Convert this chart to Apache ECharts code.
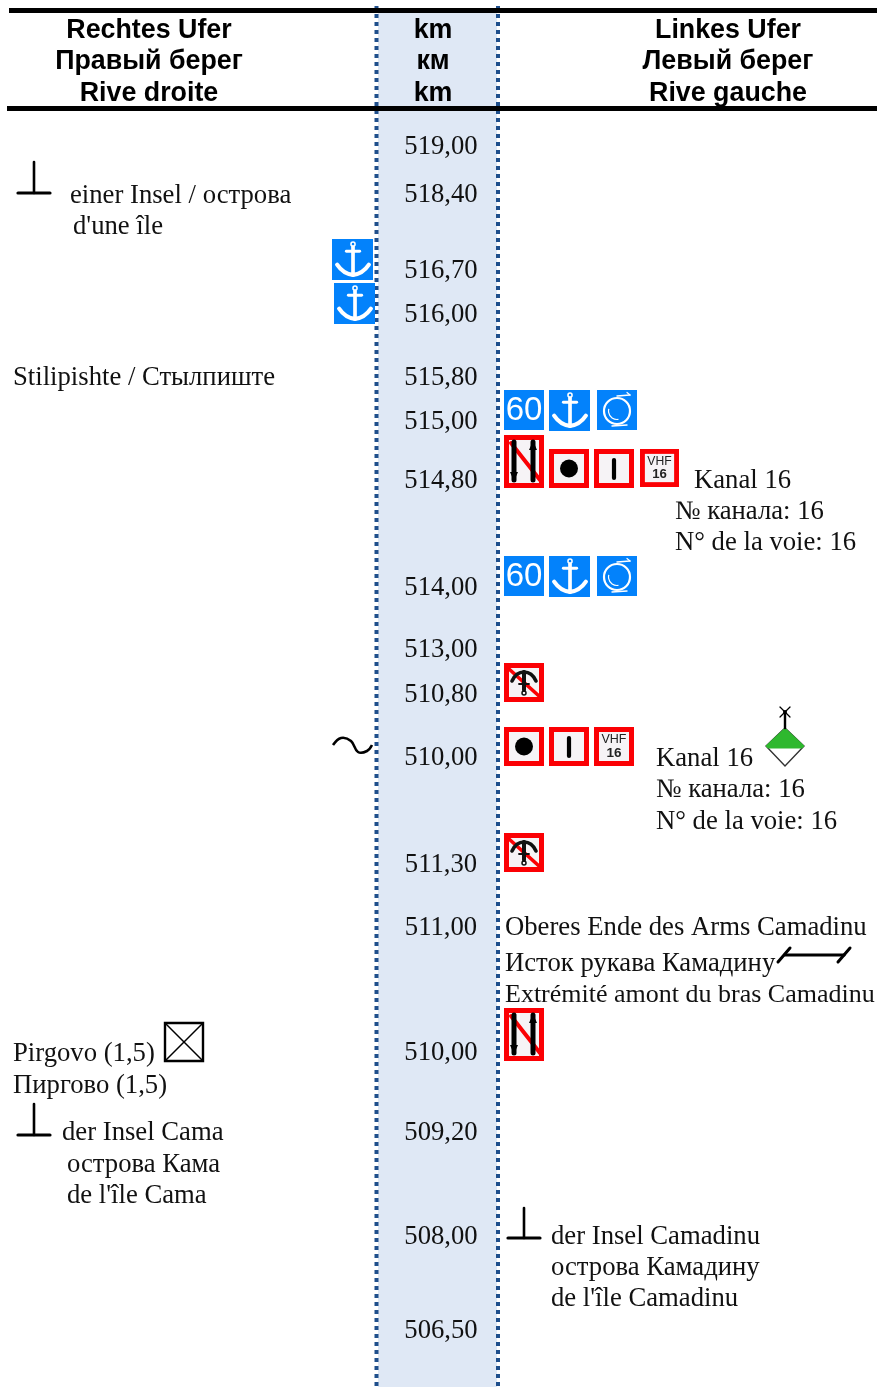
<!DOCTYPE html>
<html>
<head>
<meta charset="utf-8">
<script src="https://cdn.jsdelivr.net/npm/echarts@6/dist/echarts.min.js"></script>
<style>
  html, body { margin: 0; padding: 0; background: #fff; }
  #chart { width: 877px; height: 1387px; }
</style>
</head>
<body>
<div id="chart"></div>
<script>
// table content
const headerLeft = ['Rechtes Ufer', 'Правый берег', 'Rive droite']
const headerKm = ['km', 'км', 'km']
const headerRight = ['Linkes Ufer', 'Левый берег', 'Rive gauche']
const kmLabels = ['519,00', '518,40', '516,70', '516,00', '515,80', '515,00', '514,80', '514,00', '513,00',
  '510,80', '510,00', '511,30', '511,00', '510,00', '509,20', '508,00', '506,50']
const noteTexts = ['einer Insel / острова', "d'une île", 'Stilipishte / Стылпиште',
  'Pirgovo (1,5)', 'Пиргово (1,5)', 'der Insel Cama', 'острова Кама', "de l'île Cama",
  'Kanal 16', '№ канала: 16', 'N° de la voie: 16',
  'Kanal 16', '№ канала: 16', 'N° de la voie: 16',
  'Oberes Ende des Arms Camadinu', 'Исток рукава Камадину', 'Extrémité amont du bras Camadinu',
  'der Insel Camadinu', 'острова Камадину', "de l'île Camadinu"]
const signTypes = ['anchor', 'anchor',
  'speed', 'anchor', 'turn',
  'crossing', 'stop', 'bar', 'vhf',
  'speed', 'anchor', 'turn',
  'noAnchor',
  'stop', 'bar', 'vhf',
  'noAnchor', 'crossing']

// layout, in page pixels
const rowY = [147, 195, 271, 315, 378, 422, 481, 588, 650, 695, 758, 865, 928, 1053, 1133, 1237, 1331]
const headerY = [31, 62, 94]
const noteX = [70, 73, 13, 13, 13, 62, 67, 67, 694, 675, 675, 656, 656, 656, 505, 505, 505, 551, 551, 551]
const noteY = [196, 227, 378, 1054, 1086, 1133, 1165, 1196, 481, 512, 543, 759, 790, 822, 928, 964, 995, 1237, 1268, 1299]
const signBox = [
  [332, 239, 373, 278], [334, 283, 375, 323],
  [504, 390, 544, 430], [549, 390, 590, 430], [597, 390, 637, 430],
  [504, 435, 544, 488], [549, 449, 589, 488], [594, 449, 634, 488], [640, 449, 679, 488],
  [504, 556, 544, 595], [549, 556, 590, 595], [597, 556, 637, 595],
  [504, 663, 544, 702],
  [504, 727, 544, 766], [549, 727, 589, 766], [594, 727, 634, 766],
  [504, 833, 544, 873], [504, 1008, 544, 1062]
]

const BLUE = '#0382fb'
const RED = '#fb0004'
const SERIF = '"Liberation Serif", serif'
const SANS = '"Liberation Sans", sans-serif'

const line = (x1, y1, x2, y2, stroke, lineWidth) => ({
  type: 'line', shape: {x1, y1, x2, y2}, style: {stroke, lineWidth, lineCap: 'round'}
})
const rect = (x, y, width, height, fill) => ({type: 'rect', shape: {x, y, width, height}, style: {fill}})
const ring = (cx, cy, r, stroke, lineWidth) => ({
  type: 'circle', shape: {cx, cy, r}, style: {fill: 'none', stroke, lineWidth}
})
const arc = (cx, cy, r, startAngle, endAngle, stroke, lineWidth) => ({
  type: 'arc', shape: {cx, cy, r, startAngle, endAngle, clockwise: true}, style: {fill: 'none', stroke, lineWidth}
})
const curve = (x1, y1, cpx1, cpy1, x2, y2, stroke, lineWidth) => ({
  type: 'bezierCurve', shape: {x1, y1, cpx1, cpy1, x2, y2}, style: {fill: 'none', stroke, lineWidth, lineCap: 'round'}
})
const label = (x, y, text, font, fill, extra) => ({
  type: 'text', style: Object.assign({x, y, text, font, fill, align: 'center', verticalAlign: 'middle'}, extra)
})
const polygon = (points, fill) => ({type: 'polygon', shape: {points}, style: {fill}})

const frame = (h) => [rect(0, 0, 40, h, RED), rect(5, 5, 30, h - 10, '#f6f3f6')]
const arrow = (x, y1, y2, up) => {
  const tip = up ? y1 : y2
  const dir = up ? 1 : -1
  return [line(x, y1, x, y2, '#000', 5), polygon([[x, tip - dir], [x - 4, tip + dir * 8], [x + 4, tip + dir * 8]], '#000')]
}

// children drawn in a local box 40 wide
const signShapes = {
  speed: () => [
    rect(0, 0, 40, 40, BLUE),
    label(20, 21, '60', '33px ' + SANS, '#fff')
  ],
  anchor: () => [
    rect(0, 0, 40, 40, BLUE),
    ring(20.5, 5, 2, '#fff', 1.5), line(20.5, 8, 20.5, 33, '#fff', 3.6), line(14, 12, 27, 12, '#fff', 2.8),
    curve(5, 25, 11, 34, 20.5, 35, '#fff', 4), curve(36, 25, 30, 34, 20.5, 35, '#fff', 4)
  ],
  turn: () => [
    rect(0, 0, 40, 40, BLUE),
    ring(20, 21, 13, '#fff', 2.2), arc(20, 21, 8.5, 1.4, 3.4, '#fff', 1.2),
    line(20, 6, 33, 5, '#fff', 1.4), line(33, 5, 30, 2.5, '#fff', 1.2),
    line(15, 36, 30, 35, '#fff', 1.4)
  ],
  stop: () => [...frame(39), {type: 'circle', shape: {cx: 20, cy: 19.5, r: 9}, style: {fill: '#000'}}],
  bar: () => [...frame(39), line(20, 11, 20, 29, '#000', 4.2)],
  vhf: () => [
    ...frame(39),
    label(20, 13, 'VHF', '12.5px ' + SANS, '#222'),
    label(20, 26.5, '16', 'bold 13.5px ' + SANS, '#222')
  ],
  crossing: () => [
    ...frame(53),
    line(7, 8, 36, 45, RED, 4),
    ...arrow(10, 7, 45, false), ...arrow(29, 7, 45, true)
  ],
  noAnchor: () => [
    ...frame(39),
    line(5, 6, 35, 33, RED, 3.6),
    line(20, 9, 20, 27, '#111', 4), line(15, 21, 25, 21, '#111', 1.8),
    curve(8, 18, 12, 9, 20, 9, '#111', 3.6), curve(32, 18, 28, 9, 20, 9, '#111', 3.6),
    ring(20, 30, 2, '#111', 1.5)
  ]
}

const pageBox = (api, box) => {
  const a = api.coord([box[0], box[1]])
  const b = api.coord([box[2], box[3]])
  return {x: a[0], y: a[1], w: b[0] - a[0], h: b[1] - a[1]}
}

const option = {
  animation: false,
  grid: {left: 0, right: 0, top: 0, bottom: 0},
  xAxis: {type: 'value', min: 0, max: 877, show: false},
  yAxis: {type: 'value', min: 0, max: 1387, inverse: true, show: false},
  series: [
    { // river column background
      type: 'custom', silent: true, z: 1, clip: false,
      data: [[378, 13, 497, 1387]],
      renderItem: (params, api) => {
        const r = pageBox(api, [api.value(0), api.value(1), api.value(2), api.value(3)])
        return {type: 'rect', shape: {x: r.x, y: r.y, width: r.w, height: r.h}, style: {fill: '#dfe8f5'}}
      }
    },
    {type: 'line', z: 2, silent: true, symbol: 'none', data: [[376.5, 6], [376.5, 1387]],
      lineStyle: {color: '#1f4f8c', width: 4, type: [4, 4]}},
    {type: 'line', z: 2, silent: true, symbol: 'none', data: [[498, 6], [498, 1387]],
      lineStyle: {color: '#1f4f8c', width: 4, type: [4, 4]}},
    {type: 'line', z: 3, silent: true, symbol: 'none', data: [[9, 10.5], [877, 10.5]],
      lineStyle: {color: '#000', width: 5}},
    {type: 'line', z: 3, silent: true, symbol: 'none', data: [[7, 108.5], [877, 108.5]],
      lineStyle: {color: '#000', width: 5}},
    { // header rows
      type: 'custom', silent: true, z: 4, clip: false,
      data: headerY.map((y) => [y]),
      renderItem: (params, api) => {
        const y = api.value(0)
        const font = 'bold 26.8px ' + SANS
        const i = params.dataIndex
        return {type: 'group', children: [
          label(api.coord([149, y])[0], api.coord([149, y])[1], headerLeft[i], font, '#000'),
          label(api.coord([433, y])[0], api.coord([433, y])[1], headerKm[i], font, '#000'),
          label(api.coord([728, y])[0], api.coord([728, y])[1], headerRight[i], font, '#000')
        ]}
      }
    },
    { // kilometre labels
      type: 'custom', silent: true, z: 4, clip: false,
      data: rowY.map((y) => [441, y]),
      renderItem: (params, api) => {
        const p = api.coord([api.value(0), api.value(1)])
        return label(p[0], p[1], kmLabels[params.dataIndex], '26.7px ' + SERIF, '#111')
      }
    },
    { // bank notes
      type: 'custom', silent: true, z: 4, clip: false,
      data: noteX.map((x, i) => [x, noteY[i]]),
      renderItem: (params, api) => {
        const p = api.coord([api.value(0), api.value(1)])
        const text = noteTexts[params.dataIndex]
        // the longest line is set a little tighter in the original
        const size = text.length > 30 ? 26 : 26.7
        return label(p[0], p[1], text, size + 'px ' + SERIF, '#111', {align: 'left'})
      }
    },
    { // signs
      type: 'custom', silent: true, z: 5, clip: false,
      data: signBox,
      renderItem: (params, api) => {
        const r = pageBox(api, [api.value(0), api.value(1), api.value(2), api.value(3)])
        const s = r.w / 40
        return {type: 'group', x: r.x, y: r.y, scaleX: s, scaleY: s, children: signShapes[signTypes[params.dataIndex]]()}
      }
    },
    { // bank symbols
      type: 'custom', silent: true, z: 5, clip: false,
      data: [[0]],
      renderItem: (params, api) => {
        const c = (x, y) => api.coord([x, y])
        const seg = (x1, y1, x2, y2, w) => {
          const a = c(x1, y1), b = c(x2, y2)
          return line(a[0], a[1], b[0], b[1], '#000', w)
        }
        const tee = (cx, y0, y1) => [seg(cx - 16, y1, cx + 16, y1, 3.2), seg(cx, y0, cx, y1, 2.6)]
        const diamondA = c(785, 728), diamondB = c(804, 746), diamondC = c(785, 766), diamondD = c(766, 746)
        const greenLow = [c(802, 748), c(768, 748)]
        const wave = [[333, 745], [341, 738], [351, 741], [358, 752], [367, 751], [372, 745]].map((p) => c(p[0], p[1]))
        return {type: 'group', children: [
          ...tee(34, 162, 193), ...tee(34, 1104, 1135), ...tee(524, 1208, 1238),
          {type: 'polyline', shape: {points: wave, smooth: 0.4}, style: {fill: 'none', stroke: '#000', lineWidth: 2.6}},
          // beacon
          {type: 'polygon', shape: {points: [diamondA, diamondB, diamondC, diamondD]}, style: {fill: '#fff', stroke: '#333', lineWidth: 1.4}},
          {type: 'polygon', shape: {points: [diamondA, diamondB, greenLow[0], greenLow[1], diamondD]}, style: {fill: '#2eb82e', stroke: '#2eb82e', lineWidth: 1}},
          seg(785, 714, 785, 728, 2.4), seg(780, 707, 790, 717, 1.2), seg(790, 707, 780, 717, 1.2),
          {type: 'circle', shape: {cx: c(785, 0)[0], cy: c(0, 712)[1], r: 2}, style: {fill: '#000'}},
          // bracket
          seg(785, 955, 844, 955, 3.2), seg(778, 962, 790, 948, 3), seg(838, 962, 850, 948, 3),
          // crossed box
          {type: 'rect', shape: {x: c(165, 0)[0], y: c(0, 1023)[1], width: 38, height: 38}, style: {fill: 'none', stroke: '#000', lineWidth: 2.4}},
          seg(165, 1023, 203, 1061, 1.5), seg(203, 1023, 165, 1061, 1.5)
        ]}
      }
    }
  ]
}

const chart = echarts.init(document.getElementById('chart'))
chart.setOption(option)
</script>
</body>
</html>
